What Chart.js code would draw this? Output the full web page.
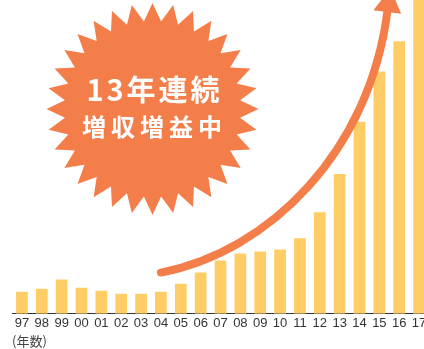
<!DOCTYPE html>
<html>
<head>
<meta charset="utf-8">
<script src="https://cdn.jsdelivr.net/npm/chart.js@4"></script>
<style>
  html, body { margin: 0; padding: 0; background: #fff; overflow: hidden; }
  #wrap { width: 432px; height: 349px; }
</style>
</head>
<body>
<div id="wrap"><canvas id="chart"></canvas></div>
<script>
const years = ["97", "98", "99", "00", "01", "02", "03", "04", "05", "06", "07",
  "08", "09", "10", "11", "12", "13", "14", "15", "16", "17"];
const sales = [22, 25, 34, 26, 23, 20, 20, 22, 30, 41, 53,
  60, 62, 64, 75, 101, 139, 191, 241, 271, 330];
const badgeLines = ["13年連続", "増収増益中"];
const axisTitle = "(年数)";

const BAR = "#ffcd66";
const ORANGE = "#f47e4a";

// arrow path as [category index, value] pairs (start, ctrl1, ctrl2, end)
const arrowPath = [[7.0, 41], [12.5, 62], [17.5, 162], [18.4, 300]];

const deco = {
  id: "deco",
  beforeDatasetsDraw(chart) {
    const ctx = chart.ctx;
    // starburst badge
    const cx = 152.5, cy = 109, rOut = 106, rIn = 88, n = 32;
    ctx.save();
    ctx.beginPath();
    for (let i = 0; i < n * 2; i++) {
      const r = i % 2 === 0 ? rOut : rIn;
      const a = -Math.PI / 2 + i * Math.PI / n;
      const px = cx + r * Math.cos(a), py = cy + r * Math.sin(a);
      if (i === 0) ctx.moveTo(px, py); else ctx.lineTo(px, py);
    }
    ctx.closePath();
    ctx.fillStyle = ORANGE;
    ctx.fill();
    ctx.fillStyle = "#fff";
    ctx.textAlign = "center";
    ctx.textBaseline = "middle";
    ctx.font = "bold 29px 'Noto Sans CJK JP'";
    ctx.letterSpacing = "3px";
    ctx.fillText(badgeLines[0], cx + 2, 90);
    ctx.font = "bold 24px 'Noto Sans CJK JP'";
    ctx.letterSpacing = "5px";
    ctx.fillText(badgeLines[1], cx + 2, 127);
    ctx.restore();
  },
  afterDatasetsDraw(chart) {
    const ctx = chart.ctx;
    const xs = chart.scales.x, ys = chart.scales.y;
    const p = arrowPath.map(([i, v]) => [xs.getPixelForValue(i), ys.getPixelForValue(v)]);
    ctx.save();
    ctx.strokeStyle = ORANGE;
    ctx.fillStyle = ORANGE;
    ctx.lineWidth = 8;
    ctx.lineCap = "round";
    ctx.beginPath();
    ctx.moveTo(p[0][0], p[0][1]);
    ctx.bezierCurveTo(p[1][0], p[1][1], p[2][0], p[2][1], p[3][0], p[3][1]);
    ctx.stroke();
    // head
    let dx = p[3][0] - p[2][0], dy = p[3][1] - p[2][1];
    const len = Math.hypot(dx, dy);
    dx /= len; dy /= len;
    const bx = p[3][0], by = p[3][1];
    ctx.beginPath();
    ctx.moveTo(bx + dx * 24, by + dy * 24);
    ctx.lineTo(bx - dy * 14, by + dx * 14);
    ctx.lineTo(bx + dy * 14, by - dx * 14);
    ctx.closePath();
    ctx.fill();
    ctx.restore();
  }
};

new Chart(document.getElementById("chart"), {
  type: "bar",
  data: {
    labels: years,
    datasets: [{
      data: sales,
      backgroundColor: BAR,
      categoryPercentage: 1,
      barPercentage: 0.59
    }]
  },
  options: {
    responsive: true,
    maintainAspectRatio: false,
    animation: false,
    layout: { padding: { left: 12, right: 3, top: 0, bottom: 0 } },
    plugins: { legend: { display: false }, tooltip: { enabled: false } },
    scales: {
      x: {
        grid: { display: false, drawTicks: false },
        border: { display: true, color: "#333", width: 1 },
        ticks: {
          autoSkip: false, maxRotation: 0, padding: 2,
          color: "#333", font: { family: "'Liberation Sans'", size: 13 }
        },
        title: {
          display: true, text: axisTitle, align: "start", color: "#444",
          font: { family: "'Noto Sans CJK JP'", size: 13 },
          padding: { top: 0, bottom: 0 }
        }
      },
      y: { display: false, min: 0, max: 312 }
    }
  },
  plugins: [deco]
});
</script>
</body>
</html>
